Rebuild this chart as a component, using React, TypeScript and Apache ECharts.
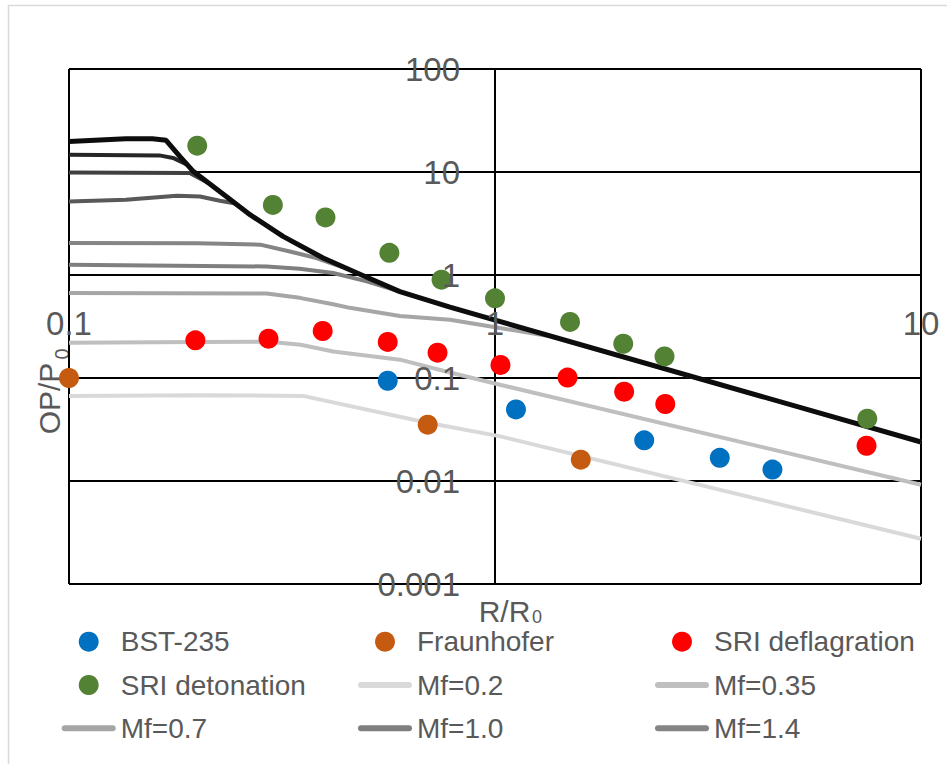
import React, { useEffect, useRef } from "react";
import * as echarts from "echarts";

// Tick labels of the two log axes
const xTickLabels = ["0.1", "1", "10"];
const yTickLabels = ["0.001", "0.01", "0.1", "1", "10", "100"];

// Measured overpressure points (R/R0, OP/P0)
const bstX = [0.56, 1.12, 2.24, 3.37, 4.48];
const bstY = [0.094, 0.0495, 0.0248, 0.0168, 0.0129];

const fraunhoferX = [0.1, 0.695, 1.59];
const fraunhoferY = [0.1, 0.0352, 0.0161];

const sriDefX = [0.198, 0.294, 0.394, 0.56, 0.733, 1.03, 1.48, 2.01, 2.51, 7.45];
const sriDefY = [0.232, 0.241, 0.286, 0.224, 0.176, 0.134, 0.101, 0.0736, 0.0559, 0.022];

const sriDetX = [0.2, 0.301, 0.4, 0.565, 0.749, 1.0, 1.5, 2.0, 2.5, 7.48];
const sriDetY = [18.0, 4.79, 3.62, 1.64, 0.9, 0.593, 0.35, 0.215, 0.162, 0.0403];

// Baker-Strehlow-Tang blast curves, one per flame Mach number
const mf02X = [0.1, 0.2, 0.354, 0.695, 1.03, 10];
const mf02Y = [0.067, 0.068, 0.067, 0.0368, 0.0271, 0.00275];

const mf035X = [0.1, 0.2, 0.294, 0.35, 0.417, 0.598, 0.784, 1.027, 10];
const mf035Y = [0.22, 0.223, 0.225, 0.21, 0.181, 0.1506, 0.113, 0.086, 0.0092];

const mf07X = [0.1, 0.291, 0.348, 0.417, 0.456, 0.598, 0.784, 1.027, 1.346, 10];
const mf07Y = [0.669, 0.66, 0.6, 0.52, 0.48, 0.4, 0.368, 0.306, 0.2535, 0.0239];

const mf10X = [0.1, 0.291, 0.348, 0.417, 0.5, 0.598];
const mf10Y = [1.26, 1.21, 1.15, 1.046, 0.867, 0.69];

const mf14X = [0.1, 0.2, 0.281, 0.33, 0.381, 0.45];
const mf14Y = [2.05, 2.03, 1.97, 1.69, 1.46, 1.15];

const mf20X = [0.1, 0.136, 0.179, 0.203, 0.226, 0.246];
const mf20Y = [5.18, 5.38, 5.89, 5.79, 5.26, 4.94];

const mf30X = [0.1, 0.192, 0.213];
const mf30Y = [9.9, 9.8, 7.8];

const mf40X = [0.1, 0.163, 0.1755, 0.19];
const mf40Y = [14.7, 14.5, 13.7, 11.7];

const mf52X = [0.1, 0.136, 0.157, 0.169, 0.182, 0.196, 0.234, 0.266, 0.318, 0.395, 0.473, 0.598, 0.784, 10];
const mf52Y = [19.8, 21.0, 21.0, 20.3, 14.2, 10.1, 5.79, 3.85, 2.37, 1.46, 1.05, 0.69, 0.487, 0.0239];

const FONT = "'Liberation Sans', Arial, sans-serif";
const TEXT_COLOR = "#595959";

const pairs = (xs: number[], ys: number[]) => xs.map((x, i) => [x, ys[i]]);

const scatterDefs = [
  { name: "BST-235", xs: bstX, ys: bstY, color: "#0070C0" },
  { name: "Fraunhofer", xs: fraunhoferX, ys: fraunhoferY, color: "#C55A11" },
  { name: "SRI deflagration", xs: sriDefX, ys: sriDefY, color: "#FF0000" },
  { name: "SRI detonation", xs: sriDetX, ys: sriDetY, color: "#548235" },
];

const lineDefs = [
  { name: "Mf=0.2", xs: mf02X, ys: mf02Y, color: "#D9D9D9", width: 4 },
  { name: "Mf=0.35", xs: mf035X, ys: mf035Y, color: "#BFBFBF", width: 4 },
  { name: "Mf=0.7", xs: mf07X, ys: mf07Y, color: "#A6A6A6", width: 4 },
  { name: "Mf=1.0", xs: mf10X, ys: mf10Y, color: "#7F7F7F", width: 4 },
  { name: "Mf=1.4", xs: mf14X, ys: mf14Y, color: "#858585", width: 4 },
  { name: "Mf=2.0", xs: mf20X, ys: mf20Y, color: "#595959", width: 4 },
  { name: "Mf=3.0", xs: mf30X, ys: mf30Y, color: "#404040", width: 4 },
  { name: "Mf=4.0", xs: mf40X, ys: mf40Y, color: "#262626", width: 4 },
  { name: "Mf=5.2", xs: mf52X, ys: mf52Y, color: "#0D0D0D", width: 5 },
];

const LINE_ICON = "path://M3,0 H51 A3,3 0 0 1 51,6 H3 A3,3 0 0 1 3,0 Z";

const legendItem = (name: string) =>
  scatterDefs.some((s) => s.name === name)
    ? { name, icon: "circle" }
    : { name, icon: LINE_ICON };

const legendColumn = (left: number, names: string[]) => ({
  orient: "vertical",
  left,
  top: 626.7,
  padding: 0,
  itemWidth: 54,
  itemHeight: 20,
  itemGap: 13.3,
  selectedMode: false,
  itemStyle: { borderWidth: 0 },
  textStyle: { fontSize: 28, color: TEXT_COLOR, fontFamily: FONT, lineHeight: 30 },
  data: names.map(legendItem),
});

// Plain text element used for the axis titles and their subscripts
const label = (text: string, x: number, y: number, size: number, rotation = 0) => ({
  type: "text",
  silent: true,
  x,
  y,
  rotation,
  style: {
    text,
    fontSize: size,
    fontFamily: FONT,
    fill: TEXT_COLOR,
    align: "center",
    verticalAlign: "middle",
  },
});

export default function App() {
  const ref = useRef<HTMLDivElement>(null);

  useEffect(() => {
    document.body.style.margin = "0";
    if (!ref.current) return;
    const chart = echarts.init(ref.current, undefined, { renderer: "svg" });

    const gridAxisCommon = {
      type: "log",
      logBase: 10,
      axisLine: { show: false },
      axisTick: { show: false },
    };

    chart.setOption({
      animation: false,
      backgroundColor: "#FFFFFF",
      grid: { left: 69, top: 69, width: 852, height: 515, outerBoundsMode: "none", containLabel: false },
      xAxis: [
        {
          ...gridAxisCommon,
          min: 0.1,
          max: 10,
          splitNumber: 2,
          position: "bottom",
          axisLabel: { show: false },
          splitLine: { show: true, lineStyle: { color: "#000000", width: 2 } },
          z: 0,
        },
        {
          ...gridAxisCommon,
          min: 0.1,
          max: 10,
          splitNumber: 2,
          position: "top",
          splitLine: { show: false },
          axisLabel: {
            show: true,
            margin: -254,
            verticalAlign: "middle",
            align: "center",
            color: TEXT_COLOR,
            fontSize: 33,
            fontFamily: FONT,
            formatter: (v: number) => xTickLabels[Math.round(Math.log10(v)) + 1],
          },
          z: 10,
        },
      ],
      yAxis: [
        {
          ...gridAxisCommon,
          min: 0.001,
          max: 100,
          splitNumber: 5,
          position: "left",
          axisLabel: { show: false },
          splitLine: { show: true, lineStyle: { color: "#000000", width: 2 } },
          z: 0,
        },
        {
          ...gridAxisCommon,
          min: 0.001,
          max: 100,
          splitNumber: 5,
          position: "right",
          splitLine: { show: false },
          axisLabel: {
            show: true,
            margin: -461,
            align: "right",
            verticalAlign: "middle",
            color: TEXT_COLOR,
            fontSize: 33,
            fontFamily: FONT,
            formatter: (v: number) => yTickLabels[Math.round(Math.log10(v)) + 3],
          },
          z: 10,
        },
      ],
      legend: [
        legendColumn(61.7, ["BST-235", "SRI detonation", "Mf=0.7"]),
        legendColumn(358, ["Fraunhofer", "Mf=0.2", "Mf=1.0"]),
        legendColumn(655, ["SRI deflagration", "Mf=0.35", "Mf=1.4"]),
      ],
      graphic: [
        {
          type: "rect",
          silent: true,
          z: -10,
          shape: { x: 8.5, y: 5.5, width: 980, height: 800 },
          style: { fill: "none", stroke: "#D9D9D9", lineWidth: 1.5 },
        },
        // x-axis title R/R0
        label("R/R", 504.5, 611, 30),
        label("0", 537, 617, 18),
        // y-axis title OP/P0, reading upwards
        label("OP/P", 49, 398.5, 30, Math.PI / 2),
        label("0", 62, 354, 20, Math.PI / 2),
      ],
      series: [
        ...lineDefs.map((l) => ({
          type: "line",
          name: l.name,
          xAxisIndex: 0,
          yAxisIndex: 0,
          data: pairs(l.xs, l.ys),
          symbol: "none",
          showSymbol: false,
          color: l.color,
          itemStyle: { color: l.color },
          lineStyle: { color: l.color, width: l.width },
          z: 3,
        })),
        ...scatterDefs.map((s) => ({
          type: "scatter",
          name: s.name,
          xAxisIndex: 0,
          yAxisIndex: 0,
          data: pairs(s.xs, s.ys),
          symbol: "circle",
          symbolSize: 20,
          itemStyle: { color: s.color, opacity: 1 },
          z: 5,
        })),
      ],
    });

    return () => chart.dispose();
  }, []);

  return <div ref={ref} style={{ width: 947, height: 764 }} />;
}
